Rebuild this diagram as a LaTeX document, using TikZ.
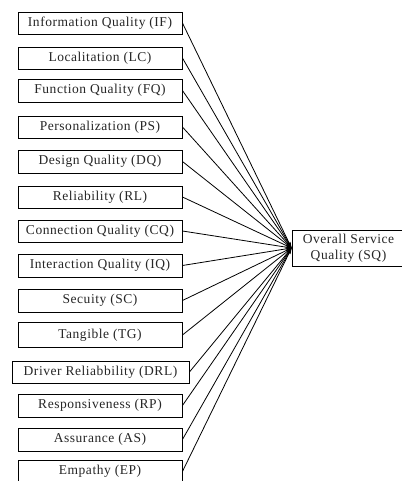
\documentclass[tikz,border=0pt]{standalone}
\usepackage{fontspec}
\setmainfont{Liberation Serif}[LetterSpace=4]
\usetikzlibrary{arrows.meta}
\begin{document}
\begin{tikzpicture}[x=1pt,y=-1pt,
  dim/.style={draw=black, line width=0.9pt, fill=white, inner sep=0pt,
    font=\fontsize{13.5}{16}\selectfont, text=black!85},
  link/.style={line width=0.8pt, -{Stealth[length=6pt,width=3.5pt]}}]
\useasboundingbox (0,0) rectangle (401,481);
\fill[white] (0,0) rectangle (401,481);
\newcommand{\dimbox}[4]{% name, center y, height, text
  \node[dim, minimum width=164pt, minimum height=#3pt] (#1) at (100,#2) {#4};}
\dimbox{IF}{23}{22}{Information Quality (IF)}
\dimbox{LC}{58}{22}{Localitation (LC)}
\dimbox{FQ}{90.5}{23}{Function Quality (FQ)}
\dimbox{PS}{127}{22}{Personalization (PS)}
\dimbox{DQ}{161.5}{23}{Design Quality (DQ)}
\dimbox{RL}{197}{22}{Reliability (RL)}
\dimbox{CQ}{231}{22}{Connection Quality (CQ)}
\dimbox{IQ}{265.5}{23}{Interaction Quality (IQ)}
\dimbox{SC}{300.5}{23}{Secuity (SC)}
\dimbox{TG}{335}{25}{Tangible (TG)}
\node[dim, minimum width=177pt, minimum height=22pt] (DRL) at (100.5,372) {Driver Reliabbility (DRL)};
\dimbox{RP}{405.5}{23}{Responsiveness (RP)}
\dimbox{AS}{439.5}{23}{Assurance (AS)}
\dimbox{EP}{471.5}{23}{Empathy (EP)}
\node[dim, minimum width=113pt, minimum height=36pt, align=center] (SQ) at (348.5,248) {Overall Service\\Quality (SQ)};
\foreach \n in {IF,LC,FQ,PS,DQ,RL,CQ,IQ,SC,TG,DRL,RP,AS,EP}
  \draw[link] (\n.east) -- (SQ.west);
\end{tikzpicture}
\end{document}
